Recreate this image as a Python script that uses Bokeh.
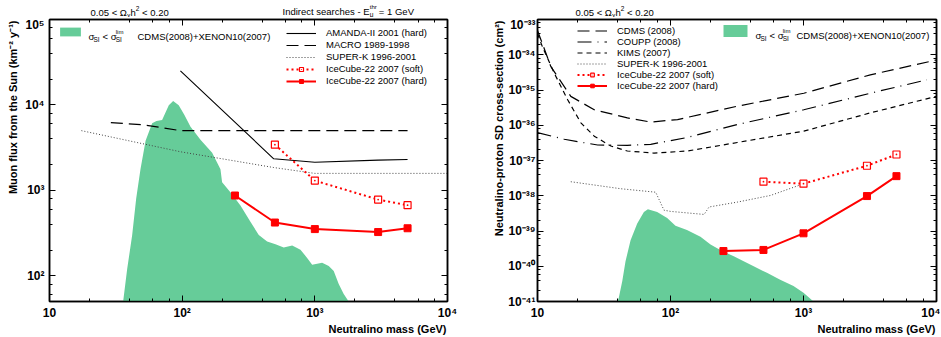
from math import pi
from bokeh.plotting import figure
from bokeh.models import (LogAxis, Label, Legend, LegendItem, CustomJSTickFormatter, LogTicker,
                          Title)
from bokeh.layouts import row, column
from bokeh.embed import file_html
from bokeh.resources import INLINE

FONT = "Liberation Sans"
GREEN = "#66CC99"
RED = "#FF0000"

# ---------------- data: left panel (muon flux) ----------------
mass_range = (10, 1e4)
flux_range = (50, 1e5)

green_left_mass = [35.9, 38.5, 42, 45, 48.5, 53, 59.4, 64, 70.6, 79.3, 85.5, 94.2, 104, 115.6,
                   137.4, 168.3, 194.4, 200, 231, 275, 327, 378, 437, 505, 583, 675, 779,
                   875, 955, 1135, 1273, 1388, 1514, 1651, 1800]
green_left_flux = [50, 120, 300, 800, 1770, 3800, 6100, 6500, 6670, 9930, 11100, 9930, 7600, 5570,
                   3920, 2750, 1770, 1240, 950, 667, 430, 300, 252, 234, 215, 226, 202,
                   162, 135, 142, 130, 114, 80, 61, 50]

amanda_mass = [97, 490, 1000, 3000, 5000]
amanda_flux = [25000, 2340, 2130, 2260, 2300]
macro_mass = [29, 51, 97, 5000]
macro_flux = [6200, 5850, 5000, 5000]
superk_left_mass = [17.4, 97, 490, 1000, 10000]
superk_left_flux = [5000, 2830, 1850, 1580, 1580]
ic_soft_left_mass = [500, 1000, 3000, 5000]
ic_soft_left_flux = [3430, 1300, 780, 670]
ic_hard_left_mass = [250, 500, 1000, 3000, 5000]
ic_hard_left_flux = [870, 420, 352, 325, 360]

# ---------------- data: right panel (SD cross-section) ----------------
sd_range = (1e-41, 1e-33)

green_right_mass = [40, 40.9, 43.4, 45.9, 50.1, 56.2, 63.1, 67.6, 79.4, 94.4, 109, 133, 168,
                    200, 237, 299, 355, 422, 531, 668, 841, 1000, 1189]
green_right_sd = [1.0e-41, 1.29e-41, 3.8e-41, 1.38e-40, 5.5e-40, 1.62e-39, 3.47e-39, 4.17e-39,
                  3.47e-39, 2.34e-39, 1.41e-39, 1.07e-39, 6.9e-40, 4.17e-40, 2.88e-40, 1.91e-40,
                  1.38e-40, 1.0e-40, 6.5e-41, 4.17e-41, 2.75e-41, 1.78e-41, 1.0e-41]

cdms_mass = [10, 12.6, 17.8, 26.7, 47.4, 71, 113, 318, 1005, 3180, 10000]
cdms_sd = [4.9e-34, 4.6e-35, 6.6e-36, 2.75e-36, 1.62e-36, 1.23e-36, 1.45e-36, 3.47e-36,
           8.1e-36, 2.69e-35, 7.1e-35]
coupp_mass = [10, 15.9, 28.3, 47.4, 71, 134, 318, 1005, 3180, 8470]
coupp_sd = [6.2e-37, 4.0e-37, 2.75e-37, 2.69e-37, 2.88e-37, 4.5e-37, 1.05e-36, 2.75e-36,
            8.1e-36, 1.95e-35]
kims_mass = [10, 10.9, 13.4, 16.9, 21.2, 26.7, 35.6, 47.4, 75.2, 134, 318, 1005, 3180, 10000]
kims_sd = [4.0e-34, 1.66e-34, 2.95e-35, 5.2e-36, 1.17e-36, 4.9e-37, 2.57e-37, 1.86e-37,
           1.62e-37, 1.86e-37, 3.24e-37, 6.8e-37, 2.24e-36, 6.6e-36]
superk_right_mass = [17.8, 42.3, 77.4, 89.3, 100, 179, 195, 318, 565, 1005]
superk_right_sd = [2.5e-38, 1.58e-38, 1.26e-38, 3.9e-39, 3.6e-39, 2.95e-39, 4.8e-39, 6.6e-39,
                   1.02e-38, 2.2e-38]
ic_soft_right_mass = [500, 1000, 3000, 5000]
ic_soft_right_sd = [2.5e-38, 2.2e-38, 7.1e-38, 1.48e-37]
ic_hard_right_mass = [250, 500, 1000, 3000, 5000]
ic_hard_right_sd = [2.7e-40, 2.9e-40, 8.6e-40, 9.8e-39, 3.6e-38]

# ---------------- helpers ----------------
SUPFMT = CustomJSTickFormatter(code="""
const sup = {'0':'\u2070','1':'\u00b9','2':'\u00b2','3':'\u00b3','4':'\u2074','5':'\u2075',
             '6':'\u2076','7':'\u2077','8':'\u2078','9':'\u2079','-':'\u207b'};
const e = Math.round(Math.log10(tick));
if (e == 1) { return '10'; }
return '10' + String(e).split('').map(c => sup[c]).join('');
""")
BLANK = CustomJSTickFormatter(code="return '';")

AW = {' ': 278, '.': 278, '<': 584, '=': 584, '-': 333, '(': 333, ')': 333, '+': 584,
      'A': 667, 'C': 722, 'D': 722, 'E': 667, 'G': 778, 'I': 300, 'M': 833, 'N': 722,
      'O': 778, 'S': 700, 'V': 667, 'X': 667, 'a': 556, 'c': 500, 'd': 556, 'e': 556,
      'h': 556, 'i': 222, 'l': 222, 'm': 833, 'n': 556, 'r': 333, 's': 500, 't': 278,
      'u': 556, 'Ω': 768, 'χ': 520, 'σ': 520, 'μ': 576}


def tw(s, size):
    return sum(AW.get(c, 556) for c in s) * size / 1000.0


def _pieces(parts, x):
    """Yield (text, size, dy, cx) with leading blanks turned into an x advance."""
    cx = x
    for text, size, dy, adv in parts:
        stripped = text.lstrip(" ")
        cx += tw(text[:len(text) - len(stripped)], size)
        yield stripped, size, dy, cx
        if adv:
            cx += tw(stripped, size)


def rich_frame(p, fx, fy, x, y, parts):
    """Text pieces inside a frame; x,y: pixel offsets (baseline) from the frame top-left."""
    for text, size, dy, cx in _pieces(parts, x):
        p.add_layout(Label(x=fx, y=fy, x_offset=cx, y_offset=-(y + dy), text=text,
                           text_font=FONT, text_font_size=f"{size}px",
                           text_baseline="alphabetic", text_align="left", text_color="black"))


def rich_header(p, H, x, base, parts):
    for text, size, dy, cx in _pieces(parts, x):
        p.add_layout(Label(x=cx, y=H - (base + dy), text=text, text_font=FONT,
                           text_font_size=f"{size}px", text_baseline="alphabetic",
                           text_align="left", text_color="black"))


def style_axis(ax, labels=True, standoff=4):
    ax.major_tick_in = 6
    ax.major_tick_out = 0
    ax.minor_tick_in = 3
    ax.minor_tick_out = 0
    ax.axis_line_width = 1.5
    ax.axis_line_color = "black"
    ax.major_tick_line_color = "black"
    ax.minor_tick_line_color = "black"
    ax.major_label_text_font = FONT
    ax.major_label_text_font_style = "bold"
    ax.major_label_text_color = "black"
    if labels:
        ax.major_label_text_font_size = "12px"
        ax.formatter = SUPFMT
    else:
        ax.major_label_text_font_size = "0px"
        ax.formatter = BLANK
    ax.major_label_standoff = standoff


def make_fig(width, height, yr, left, right, top, bottom, ydesired, ystand):
    p = figure(width=width, height=height, x_axis_type="log", y_axis_type="log",
               x_range=mass_range, y_range=yr, output_backend="svg", toolbar_location=None,
               min_border_left=left, min_border_right=right, min_border_top=top,
               min_border_bottom=bottom)
    p.grid.visible = False
    p.outline_line_color = "black"
    p.outline_line_width = 1.5
    p.background_fill_color = "white"
    p.border_fill_color = "white"
    p.xaxis.ticker = LogTicker(desired_num_ticks=4)
    p.yaxis.ticker = LogTicker(desired_num_ticks=ydesired)
    style_axis(p.xaxis[0], True, 4)
    style_axis(p.yaxis[0], True, ystand)
    ra = LogAxis(ticker=LogTicker(desired_num_ticks=ydesired))
    style_axis(ra, False, 0)
    p.add_layout(ra, "right")
    ta = LogAxis(ticker=LogTicker(desired_num_ticks=4))
    style_axis(ta, False, 0)
    p.add_layout(ta, "above")
    return p


def legend_style(lg, gh, sp):
    lg.background_fill_alpha = 0
    lg.border_line_alpha = 0
    lg.padding = 0
    lg.margin = 0
    lg.glyph_width = 30
    lg.glyph_height = gh
    lg.label_height = gh
    lg.spacing = sp
    lg.label_standoff = 10
    lg.label_text_font = FONT
    lg.label_text_font_size = "9.5px"
    lg.label_text_color = "black"


def axis_titles(p, xtext, ytext, ystandoff):
    p.add_layout(Title(text=xtext, align="right", vertical_align="top", offset=1, standoff=0,
                       text_font=FONT, text_font_size="11px", text_font_style="bold",
                       text_color="black"), "below")
    p.add_layout(Title(text=ytext, align="right", vertical_align="middle", offset=1,
                       standoff=ystandoff, text_font=FONT, text_font_size="11px",
                       text_font_style="bold", text_color="black"), "left")


sig_parts = [("σ", 9.5, 0, True), ("SI", 6.5, 2.5, True), (" < σ", 9.5, 0, True),
             ("lim", 6, -4.5, False), ("SI", 6.5, 2.5, True)]
omega_parts = [("0.05 < Ω", 9.5, 0, True), ("χ", 6.5, 2.5, True), ("h", 9.5, 0, True),
               ("2", 6.5, -4, True), (" < 0.20", 9.5, 0, True)]

# ---------------- header (texts above the frames) ----------------
HH = 17
head = figure(width=940, height=HH, x_range=(0, 940), y_range=(0, HH), output_backend="svg",
              toolbar_location=None, min_border=0, x_axis_location=None, y_axis_location=None)
head.outline_line_color = None
head.grid.visible = False
rich_header(head, HH, 90, 12, omega_parts)
rich_header(head, HH, 282, 11, [("Indirect searches - E", 9.5, 0, True), ("thr", 6, -4.5, False),
                                ("μ", 6.5, 2.5, True), ("  = 1 GeV", 9.5, 0, True)])
rich_header(head, HH, 575, 12, omega_parts)

MS = 7  # marker size (px)

# ---------------- left figure ----------------
p1 = make_fig(470, 319, flux_range, 49, 23, 1, 33, 5, 5)
fx1, fy1 = mass_range[0], flux_range[1]

g1 = p1.varea(x=green_left_mass, y1=flux_range[0], y2=green_left_flux, fill_color=GREEN,
              fill_alpha=1.0)
r_am = p1.line(amanda_mass, amanda_flux, line_color="black", line_width=1.1)
r_ma = p1.line(macro_mass, macro_flux, line_color="black", line_width=1.2, line_dash="12 6")
r_sk = p1.line(superk_left_mass, superk_left_flux, line_color="#444444", line_width=1,
               line_dash="1 2")
r_sl = p1.line(ic_soft_left_mass, ic_soft_left_flux, line_color=RED, line_width=2,
               line_dash="2 3")
r_ss = p1.scatter(ic_soft_left_mass, ic_soft_left_flux, marker="square_dot", size=MS,
                  line_color=RED, fill_color="white", line_width=1.2)
r_hl = p1.line(ic_hard_left_mass, ic_hard_left_flux, line_color=RED, line_width=2)
r_hs = p1.scatter(ic_hard_left_mass, ic_hard_left_flux, marker="square", size=MS,
                  line_color=RED, fill_color=RED)

legL = Legend(items=[LegendItem(label="AMANDA-II 2001 (hard)", renderers=[r_am]),
                     LegendItem(label="MACRO 1989-1998", renderers=[r_ma]),
                     LegendItem(label="SUPER-K 1996-2001", renderers=[r_sk]),
                     LegendItem(label="IceCube-22 2007 (soft)", renderers=[r_sl, r_ss]),
                     LegendItem(label="IceCube-22 2007 (hard)", renderers=[r_hl, r_hs])],
              location=(237, 215))
legend_style(legL, 10, 1)
p1.add_layout(legL)

legG1 = Legend(items=[LegendItem(label=" ", renderers=[g1])], location=(8, 264))
legend_style(legG1, 11, 0)
legG1.glyph_width = 26
p1.add_layout(legG1)

rich_frame(p1, fx1, fy1, 39, 17, sig_parts)
rich_frame(p1, fx1, fy1, 88, 17, [("CDMS(2008)+XENON10(2007)", 9.5, 0, True)])
axis_titles(p1, "Neutralino mass (GeV)", "Muon flux from the Sun (km\u207b\u00b2 y\u207b\u00b9)", 6)

# ---------------- right figure ----------------
p2 = make_fig(470, 319, sd_range, 67, 4, 2, 32, 10, 2)
fx2, fy2 = mass_range[0], sd_range[1]

g2 = p2.varea(x=green_right_mass, y1=sd_range[0], y2=green_right_sd, fill_color=GREEN,
              fill_alpha=1.0)
q_cd = p2.line(cdms_mass, cdms_sd, line_color="black", line_width=1.2, line_dash="12 6")
q_co = p2.line(coupp_mass, coupp_sd, line_color="black", line_width=1.2, line_dash="14 6 1 6")
q_ki = p2.line(kims_mass, kims_sd, line_color="black", line_width=1.2, line_dash="5 4")
q_sk = p2.line(superk_right_mass, superk_right_sd, line_color="#444444", line_width=1,
               line_dash="1 2")
q_sl = p2.line(ic_soft_right_mass, ic_soft_right_sd, line_color=RED, line_width=2,
               line_dash="2 3")
q_ss = p2.scatter(ic_soft_right_mass, ic_soft_right_sd, marker="square_dot", size=MS,
                  line_color=RED, fill_color="white", line_width=1.2)
q_hl = p2.line(ic_hard_right_mass, ic_hard_right_sd, line_color=RED, line_width=2)
q_hs = p2.scatter(ic_hard_right_mass, ic_hard_right_sd, marker="square", size=MS,
                  line_color=RED, fill_color=RED)

legR = Legend(items=[LegendItem(label="CDMS (2008)", renderers=[q_cd]),
                     LegendItem(label="COUPP (2008)", renderers=[q_co]),
                     LegendItem(label="KIMS (2007)", renderers=[q_ki]),
                     LegendItem(label="SUPER-K 1996-2001", renderers=[q_sk]),
                     LegendItem(label="IceCube-22 2007 (soft)", renderers=[q_sl, q_ss]),
                     LegendItem(label="IceCube-22 2007 (hard)", renderers=[q_hl, q_hs])],
              location=(40, 210))
legend_style(legR, 9, 0)
p2.add_layout(legR)

legG2 = Legend(items=[LegendItem(label=" ", renderers=[g2])], location=(183, 263))
legend_style(legG2, 15, 0)
p2.add_layout(legG2)

rich_frame(p2, fx2, fy2, 218, 16, sig_parts)
rich_frame(p2, fx2, fy2, 259, 16, [("CDMS(2008)+XENON10(2007)", 9.5, 0, True)])
axis_titles(p2, "Neutralino mass (GeV)", "Neutralino-proton SD cross-section (cm\u00b2)", 0)

layout = column(head, row(p1, p2))
open("out.html", "w").write(file_html(layout, INLINE))
